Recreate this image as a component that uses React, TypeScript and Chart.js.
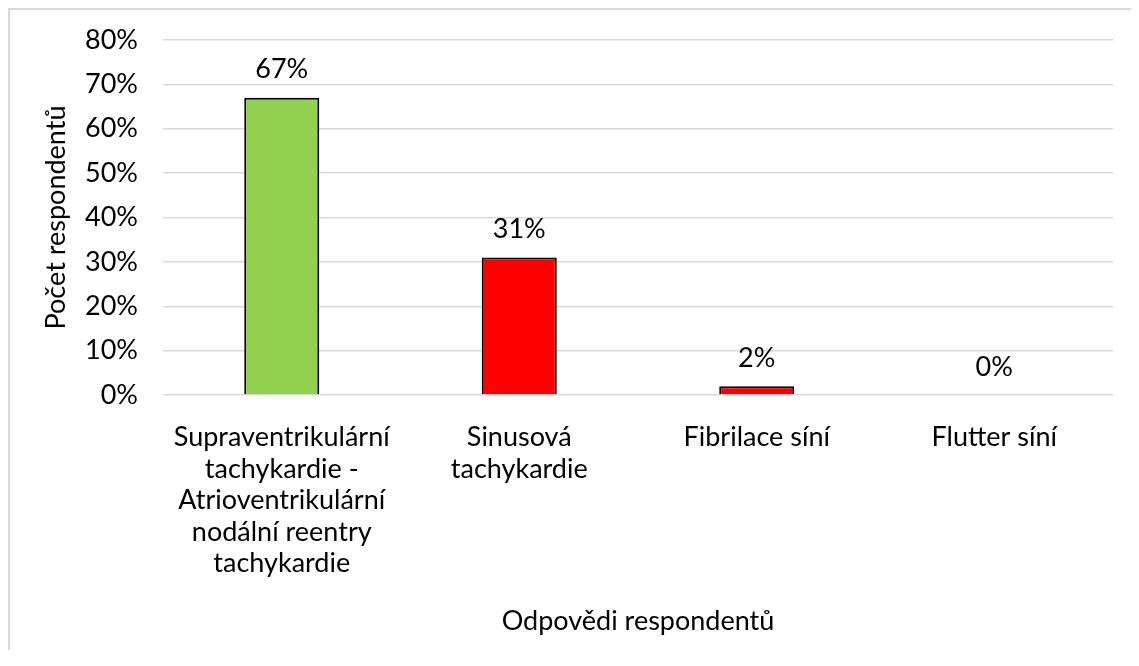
import React, { useEffect, useRef } from "react";
import { Chart, registerables } from "chart.js";

Chart.register(...registerables);

const categories: string[][] = [
  ["Supraventrikulární", "tachykardie -", "Atrioventrikulární", "nodální reentry", "tachykardie"],
  ["Sinusová", "tachykardie"],
  ["Fibrilace síní"],
  ["Flutter síní"],
];
const values: number[] = [67, 31, 2, 0];
const barColors: string[] = ["#92D050", "#FF0000", "#FF0000", "#FF0000"];
const yTicks: number[] = [0, 10, 20, 30, 40, 50, 60, 70, 80];
const xTitle = "Odpovědi respondentů";
const yTitle = "Počet respondentů";

const FONT = "Lato, 'Open Sans', sans-serif";
const FS = 27;

const labelPlugin = {
  id: "valueLabels",
  afterDatasetsDraw(chart: any) {
    const ctx = chart.ctx;
    const meta = chart.getDatasetMeta(0);
    ctx.save();
    ctx.font = `${FS}px ${FONT}`;
    ctx.fillStyle = "#000";
    ctx.textAlign = "center";
    ctx.textBaseline = "middle";
    meta.data.forEach((bar: any, i: number) => {
      ctx.fillText(`${values[i]}%`, bar.x, bar.y - 28);
    });
    ctx.restore();
  },
};

export default function App() {
  const ref = useRef<HTMLCanvasElement>(null);
  useEffect(() => {
    if (!ref.current) return;
    const chart = new Chart(ref.current, {
      type: "bar",
      data: {
        labels: categories,
        datasets: [
          {
            data: values,
            backgroundColor: barColors,
            borderColor: "#000000",
            borderWidth: 2,
            borderSkipped: "bottom",
            categoryPercentage: 1,
            barPercentage: 0.316,
          },
        ],
      },
      options: {
        responsive: false,
        animation: false,
        layout: { padding: { top: 30, right: 18, left: 0, bottom: 0 } },
        plugins: {
          legend: { display: false },
          tooltip: { enabled: false },
        },
        scales: {
          x: {
            grid: { display: false, drawTicks: false },
            border: { display: false },
            ticks: {
              color: "#000",
              font: { family: FONT, size: FS, lineHeight: 1.167 },
              padding: 27,
              maxRotation: 0,
              autoSkip: false,
            },
            title: {
              display: true,
              text: xTitle,
              color: "#000",
              font: { family: FONT, size: FS, lineHeight: 1.3 },
              padding: { top: 0, bottom: 11 },
            },
            afterFit: (scale: any) => {
              scale.height = 255;
            },
          },
          y: {
            min: 0,
            max: 80,
            afterBuildTicks: (scale: any) => {
              scale.ticks = yTicks.map((v) => ({ value: v }));
            },
            grid: { color: "#D9D9D9", lineWidth: 1.5, drawTicks: false },
            border: { display: false },
            ticks: {
              color: "#000",
              font: { family: FONT, size: FS },
              padding: 25,
              callback: (v: any) => `${v}%`,
            },
            title: {
              display: true,
              text: yTitle,
              color: "#000",
              font: { family: FONT, size: FS, lineHeight: 1.3 },
              padding: { top: 29, bottom: 0 },
            },
            afterFit: (scale: any) => {
              scale.width = 153;
              scale.paddingTop = 0;
              scale.paddingBottom = 0;
            },
          },
        },
      },
      plugins: [labelPlugin],
    });
    return () => chart.destroy();
  }, []);
  return (
    <div
      style={{
        borderTop: "2px solid #D9D9D9",
        borderLeft: "2px solid #D9D9D9",
        width: 1121,
        height: 640,
        background: "#fff",
      }}
    >
      <canvas ref={ref} width={1121} height={640} style={{ display: "block" }} />
    </div>
  );
}
